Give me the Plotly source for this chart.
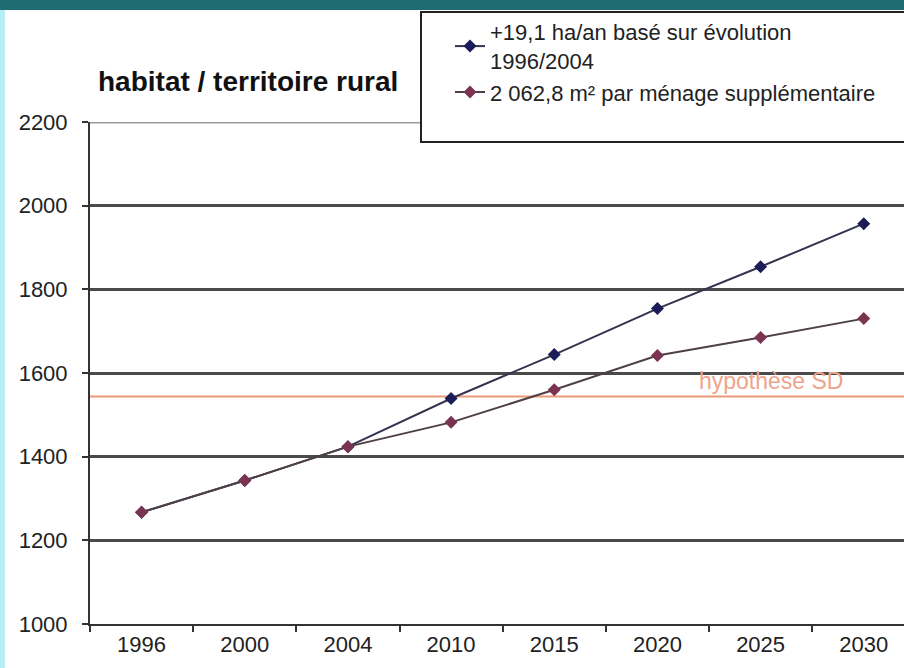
import plotly.graph_objects as go

years = ["1996", "2000", "2004", "2010", "2015", "2020", "2025", "2030"]
trend_191 = [1267, 1343, 1424, 1539, 1644, 1754, 1854, 1957]
per_household = [1267, 1343, 1424, 1482, 1560, 1642, 1685, 1730]
hypothesis_sd = 1544

name1 = "+19,1 ha/an basé sur évolution<br>1996/2004"
name2 = "2 062,8 m² par ménage supplémentaire"

W, H = 904, 668
L, R, T, B = 90, 904, 122, 624
pw, ph = R - L, B - T

def px(x):
    return (x - L) / pw

def py(y):
    return (B - y) / ph

fig = go.Figure()
fig.add_trace(go.Scatter(
    x=years, y=trend_191, name=name1, mode="lines+markers",
    line=dict(color="#34344e", width=2),
    marker=dict(symbol="diamond", size=10, color="#1c1c58"),
))
fig.add_trace(go.Scatter(
    x=years, y=per_household, name=name2, mode="lines+markers",
    line=dict(color="#4f4048", width=2),
    marker=dict(symbol="diamond", size=10, color="#7a3350"),
))

shapes = [
    dict(type="line", xref="paper", yref="y", x0=0, x1=1, y0=hypothesis_sd, y1=hypothesis_sd,
         line=dict(color="#eb9a78", width=2), layer="below"),
    dict(type="line", xref="paper", yref="y", x0=0, x1=1, y0=2200, y1=2200,
         line=dict(color="#9a9a9a", width=3), layer="above"),
    dict(type="rect", xref="paper", yref="paper", x0=px(-5), x1=px(910), y0=py(10), y1=py(-5),
         fillcolor="#1f6c74", line=dict(width=0)),
    dict(type="rect", xref="paper", yref="paper", x0=px(-5), x1=px(5), y0=py(680), y1=py(10),
         fillcolor="#b6eef4", line=dict(width=0)),
    dict(type="rect", xref="paper", yref="paper", x0=px(421), x1=px(910), y0=py(142), y1=py(12),
         fillcolor="white", line=dict(color="#222222", width=2), layer="above"),
]

fig.update_layout(
    width=W, height=H,
    margin=dict(l=L, r=W - R, t=T, b=H - B),
    paper_bgcolor="white", plot_bgcolor="rgba(0,0,0,0)",
    font=dict(family="Liberation Sans, Arial, sans-serif", size=22, color="#222222"),
    showlegend=True,
    legend=dict(x=px(450), y=py(11), xanchor="left", yanchor="top",
                bgcolor="rgba(0,0,0,0)", borderwidth=0,
                font=dict(size=22, color="#222222"), itemwidth=30,
                tracegroupgap=0),
    shapes=shapes,
    annotations=[
        dict(text="<b>habitat / territoire rural</b>", xref="paper", yref="paper",
             x=px(96), y=py(81), xanchor="left", yanchor="middle", showarrow=False,
             font=dict(size=28, color="#111111")),
        dict(text="hypothèse SD", xref="paper", yref="y", x=px(771), y=1580,
             xanchor="center", yanchor="middle", showarrow=False,
             font=dict(size=23, color="#eea48c")),
    ],
)
fig.update_xaxes(
    type="category", range=[-0.5, 7.39], tickson="boundaries",
    ticks="outside", ticklen=6, tickwidth=2, tickcolor="#333333",
    showline=True, linecolor="#333333", linewidth=2, showgrid=False,
    tickfont=dict(size=22, color="#222222"),
)
fig.update_yaxes(
    range=[1000, 2200], dtick=200, ticks="outside", ticklen=6, tickwidth=2,
    tickcolor="#333333", showline=True, linecolor="#333333", linewidth=2,
    showgrid=True, gridcolor="#4a4a4a", gridwidth=2.5, zeroline=False,
    ticklabelstandoff=10,
    tickfont=dict(size=22, color="#222222"),
)

fig.write_html("out.html", config={"displayModeBar": False},
               post_script="document.body.style.margin='0';")
